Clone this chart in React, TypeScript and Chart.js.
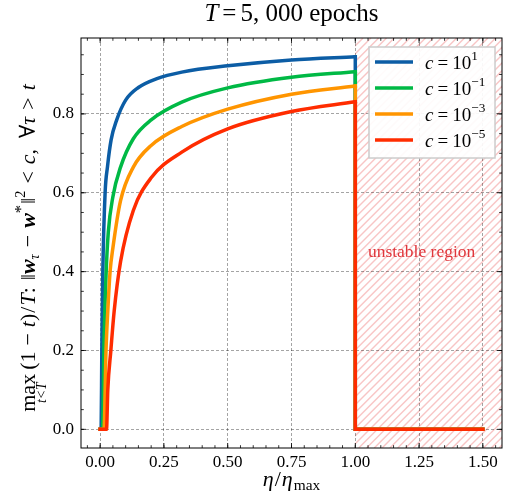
import { useEffect, useRef } from "react";
import { Chart, registerables } from "chart.js";

Chart.register(...registerables);

const FONT = '"Liberation Serif", "DejaVu Serif", serif';

// ---- data ----
const seriesLabels = ["c=10^1", "c=10^-1", "c=10^-3", "c=10^-5"];
const legendExponents = ["1", "−1", "−3", "−5"];
const seriesColors = ["#0C5DA5", "#00B945", "#FF9500", "#FF2C00"];

const etaC1 = [0, 0.004, 0.0066, 0.0105, 0.0195, 0.029, 0.043, 0.065, 0.1, 0.15, 0.22, 0.32, 0.5, 0.75, 1.0];
const valC1 = [0, 0, 0.2, 0.4, 0.6, 0.667, 0.734, 0.785, 0.835, 0.867, 0.889, 0.906, 0.922, 0.937, 0.945];

const etaC2 = [0, 0.009, 0.0155, 0.023, 0.032, 0.05, 0.08, 0.13, 0.2, 0.32, 0.5, 0.75, 1.0];
const valC2 = [0, 0, 0.23, 0.39, 0.5, 0.59, 0.665, 0.737, 0.785, 0.83, 0.866, 0.893, 0.907];

const etaC3 = [0, 0.015, 0.023, 0.03, 0.039, 0.05, 0.08, 0.13, 0.2, 0.32, 0.5, 0.75, 1.0];
const valC3 = [0, 0, 0.2, 0.3, 0.4, 0.46, 0.58, 0.665, 0.72, 0.768, 0.812, 0.85, 0.871];

const etaC4 = [0, 0.025, 0.03, 0.042, 0.055, 0.08, 0.13, 0.2, 0.32, 0.5, 0.75, 1.0];
const valC4 = [0, 0, 0.1, 0.2, 0.3, 0.425, 0.555, 0.638, 0.703, 0.762, 0.806, 0.831];

const seriesEta = [etaC1, etaC2, etaC3, etaC4];
const seriesVal = [valC1, valC2, valC3, valC4];

const unstableStart = 1.0;
const etaEnd = 1.5;
const unstableLabel = "unstable region";
const unstableLabelPos = [1.26, 0.45];

const xRange = [-0.075, 1.575];
const yRange = [-0.0473, 0.9925];
const xMajorStep = 0.25;
const xMinorStep = 0.05;
const yMajorStep = 0.2;
const yMinorStep = 0.05;

type Seg = { t?: string; st?: "n" | "i" | "bi"; sc?: number; dy?: number; under?: boolean; gap?: number };

function fontOf(st: string | undefined, size: number) {
  const pre = st === "i" ? "italic " : st === "bi" ? "italic bold " : "";
  return `${pre}${size}px ${FONT}`;
}

function drawRich(ctx: CanvasRenderingContext2D, segs: Seg[], x: number, y: number, size: number, align: "left" | "center") {
  let total = 0;
  for (const s of segs) {
    if (s.under) continue;
    if (s.gap !== undefined) { total += s.gap; continue; }
    ctx.font = fontOf(s.st, size * (s.sc || 1));
    total += ctx.measureText(s.t || "").width;
  }
  let cx = align === "center" ? x - total / 2 : x;
  let prevX = cx;
  let prevW = 0;
  ctx.textAlign = "left";
  ctx.textBaseline = "alphabetic";
  for (const s of segs) {
    if (s.gap !== undefined) { cx += s.gap; continue; }
    ctx.font = fontOf(s.st, size * (s.sc || 1));
    const t = s.t || "";
    const w = ctx.measureText(t).width;
    if (s.under) {
      ctx.fillText(t, prevX + prevW / 2 - w / 2, y + (s.dy || 0));
      continue;
    }
    ctx.fillText(t, cx, y + (s.dy || 0));
    prevX = cx;
    prevW = w;
    cx += w;
  }
}

const decorPlugin = {
  id: "decor",
  beforeDraw(chart: any) {
    const { ctx, chartArea: a, scales } = chart;
    const x0 = scales.x.getPixelForValue(unstableStart);
    ctx.save();
    ctx.beginPath();
    ctx.rect(x0, a.top, a.right - x0, a.bottom - a.top);
    ctx.clip();
    ctx.strokeStyle = "rgba(238, 110, 110, 0.4)";
    ctx.lineWidth = 1.4;
    const h = a.bottom - a.top;
    for (let x = x0 - h; x < a.right + 10; x += 7.8) {
      ctx.beginPath();
      ctx.moveTo(x, a.bottom);
      ctx.lineTo(x + h, a.top);
      ctx.stroke();
    }
    ctx.restore();
  },
  afterDraw(chart: any) {
    const { ctx, chartArea: a, scales } = chart;
    const xs = scales.x;
    const ys = scales.y;
    ctx.save();
    // ticks (inward, all sides)
    ctx.strokeStyle = "#000";
    ctx.lineWidth = 0.8;
    const tick = (p: number, len: number, vertical: boolean) => {
      ctx.beginPath();
      if (vertical) {
        ctx.moveTo(p, a.bottom);
        ctx.lineTo(p, a.bottom - len);
        ctx.moveTo(p, a.top);
        ctx.lineTo(p, a.top + len);
      } else {
        ctx.moveTo(a.left, p);
        ctx.lineTo(a.left + len, p);
        ctx.moveTo(a.right, p);
        ctx.lineTo(a.right - len, p);
      }
      ctx.stroke();
    };
    for (let k = Math.ceil(xs.min / xMinorStep); k <= Math.floor(xs.max / xMinorStep); k++) {
      tick(xs.getPixelForValue(k * xMinorStep), 2.8, true);
    }
    for (const t of xs.ticks) tick(xs.getPixelForValue(t.value), 5, true);
    for (let k = Math.ceil(ys.min / yMinorStep); k <= Math.floor(ys.max / yMinorStep); k++) {
      tick(ys.getPixelForValue(k * yMinorStep), 2.8, false);
    }
    for (const t of ys.ticks) tick(ys.getPixelForValue(t.value), 5, false);
    // frame
    ctx.lineWidth = 1;
    ctx.strokeRect(a.left, a.top, a.right - a.left, a.bottom - a.top);

    ctx.fillStyle = "#000";
    // title
    drawRich(ctx, [
      { t: "T", st: "i" },
      { gap: 4 },
      { t: "=" },
      { gap: 4 },
      { t: "5, 000 epochs" },
    ], (a.left + a.right) / 2, 21, 25, "center");

    // x title
    drawRich(ctx, [
      { t: "η", st: "i" },
      { gap: 1 },
      { t: "/" },
      { gap: 1 },
      { t: "η", st: "i" },
      { gap: 1 },
      { t: "max", sc: 0.7, dy: 4 },
    ], (a.left + a.right) / 2, 486, 22, "center");

    // y title
    ctx.save();
    ctx.translate(35, 248);
    ctx.rotate(-Math.PI / 2);
    drawRich(ctx, [
      { t: "max" },
      { t: "t<T", st: "i", sc: 0.62, dy: 11, under: true },
      { gap: 4 },
      { t: "(1" },
      { gap: 6 },
      { t: "−" },
      { gap: 6 },
      { t: "t", st: "i" },
      { t: ")" },
      { gap: 1 },
      { t: "/" },
      { gap: 1 },
      { t: "T", st: "i" },
      { t: ":" },
      { gap: 7 },
      { t: "‖" },
      { t: "w", st: "bi" },
      { t: "τ", st: "i", sc: 0.65, dy: 4 },
      { gap: 7 },
      { t: "−" },
      { gap: 7 },
      { t: "w", st: "bi" },
      { t: "*", sc: 0.75, dy: -9 },
      { gap: 1 },
      { t: "‖" },
      { t: "2", sc: 0.65, dy: -10 },
      { gap: 7 },
      { t: "<" },
      { gap: 7 },
      { t: "c", st: "i" },
      { t: "," },
      { gap: 11 },
      { t: "∀" },
      { t: "τ", st: "i" },
      { gap: 7 },
      { t: ">" },
      { gap: 7 },
      { t: "t", st: "i" },
    ], 0, 0, 22, "center");
    ctx.restore();

    // unstable region label
    ctx.fillStyle = "#E0363C";
    ctx.font = `17.5px ${FONT}`;
    ctx.textAlign = "center";
    ctx.textBaseline = "middle";
    ctx.fillText(unstableLabel, xs.getPixelForValue(unstableLabelPos[0]), ys.getPixelForValue(unstableLabelPos[1]));

    // legend
    const rowH = 26;
    const n = seriesLabels.length;
    const bw = 126;
    const bh = n * rowH + 7;
    const bx = a.right - 7 - bw;
    const by = a.top + 9;
    ctx.fillStyle = "rgba(255,255,255,0.92)";
    ctx.fillRect(bx, by, bw, bh);
    ctx.strokeStyle = "#cccccc";
    ctx.lineWidth = 1.5;
    ctx.strokeRect(bx, by, bw, bh);
    for (let i = 0; i < n; i++) {
      const cy = by + 15 + i * rowH;
      ctx.strokeStyle = seriesColors[i];
      ctx.lineWidth = 3.5;
      ctx.lineCap = "butt";
      ctx.beginPath();
      ctx.moveTo(bx + 6, cy);
      ctx.lineTo(bx + 44, cy);
      ctx.stroke();
      ctx.fillStyle = "#000";
      drawRich(ctx, [
        { t: "c", st: "i" },
        { gap: 4 },
        { t: "=" },
        { gap: 4 },
        { t: "10" },
        { t: legendExponents[i], sc: 0.7, dy: -9 },
      ], bx + 56, cy + 7, 19, "left");
    }
    ctx.restore();
  },
};

export default function App() {
  const ref = useRef<HTMLCanvasElement | null>(null);
  useEffect(() => {
    if (!ref.current) return;
    const n = seriesLabels.length;
    const datasets: any[] = [];
    for (let i = 0; i < n; i++) {
      datasets.push({
        label: seriesLabels[i],
        data: seriesEta[i].map((x, j) => ({ x, y: seriesVal[i][j] })),
        borderColor: seriesColors[i],
        backgroundColor: seriesColors[i],
        borderWidth: 3.5,
        pointRadius: 0,
        cubicInterpolationMode: "monotone",
        borderCapStyle: "square",
        borderJoinStyle: "miter",
        order: 2 * (n - i),
      });
    }
    for (let i = 0; i < n; i++) {
      const last = seriesVal[i][seriesVal[i].length - 1];
      datasets.push({
        label: seriesLabels[i] + " tail",
        data: [
          { x: unstableStart, y: last },
          { x: unstableStart, y: 0 },
          { x: etaEnd, y: 0 },
        ],
        borderColor: seriesColors[i],
        backgroundColor: seriesColors[i],
        borderWidth: 3.5,
        pointRadius: 0,
        tension: 0,
        borderCapStyle: "square",
        borderJoinStyle: "miter",
        order: 2 * (n - i) - 1,
      });
    }
    const tickFont = { family: FONT, size: 17 };
    const chart = new Chart(ref.current, {
      type: "line",
      data: { datasets },
      plugins: [decorPlugin],
      options: {
        animation: false,
        responsive: false,
        layout: { padding: { top: 38, right: 3, left: 0, bottom: 0 } },
        plugins: { legend: { display: false }, tooltip: { enabled: false }, title: { display: false } },
        scales: {
          x: {
            type: "linear",
            min: xRange[0],
            max: xRange[1],
            afterFit: (s: any) => { s.height = 51; },
            ticks: {
              stepSize: xMajorStep,
              includeBounds: false,
              callback: (v: any) => Number(v).toFixed(2),
              font: tickFont,
              color: "#000",
              padding: 4,
              maxRotation: 0,
            },
            grid: { color: "rgba(0,0,0,0.45)", lineWidth: 0.8, drawTicks: false },
            border: { display: false, dash: [3, 2] },
          },
          y: {
            type: "linear",
            min: yRange[0],
            max: yRange[1],
            afterFit: (s: any) => { s.width = 81; },
            ticks: {
              stepSize: yMajorStep,
              includeBounds: false,
              callback: (v: any) => Number(v).toFixed(1),
              font: tickFont,
              color: "#000",
              padding: 7,
            },
            grid: { color: "rgba(0,0,0,0.45)", lineWidth: 0.8, drawTicks: false },
            border: { display: false, dash: [3, 2] },
          },
        },
      } as any,
    });
    return () => chart.destroy();
  }, []);
  return (
    <div style={{ position: "absolute", left: 0, top: 0, width: 505, height: 499 }}>
      <canvas ref={ref} width={505} height={499} style={{ display: "block" }} />
    </div>
  );
}
